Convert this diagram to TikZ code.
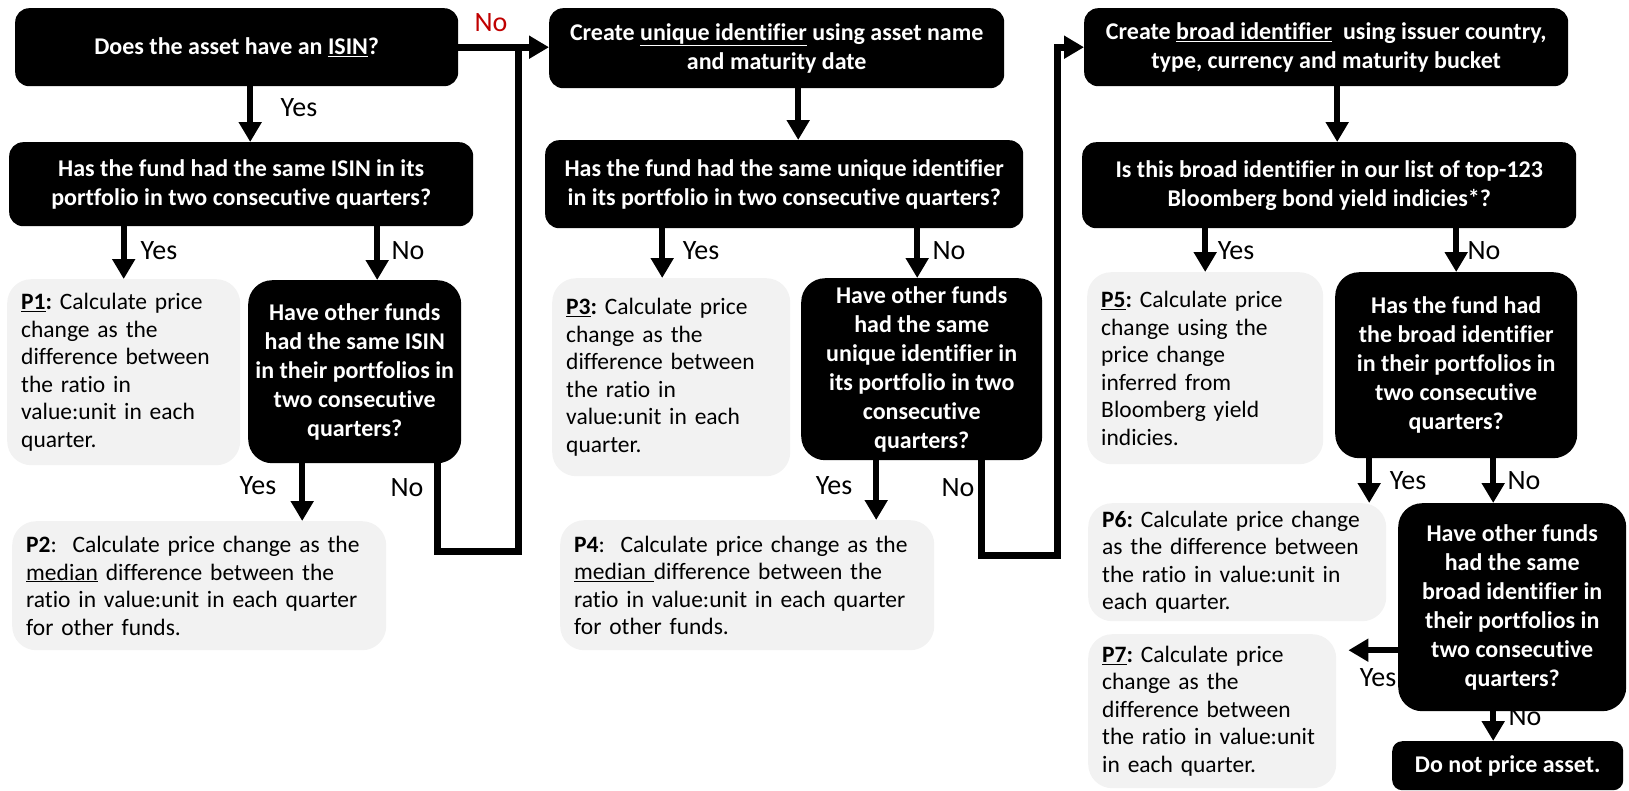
\documentclass[tikz,border=0pt]{standalone}
\usepackage{fontspec}
\setmainfont{Carlito}[Ligatures=NoCommon]
\frenchspacing
\usetikzlibrary{arrows.meta}
\definecolor{boxgray}{RGB}{242,242,242}
\definecolor{nored}{RGB}{192,0,0}
\newcommand\qfont{\fontsize{24}{29}\selectfont\bfseries}
\newcommand\pfont{\fontsize{23.5}{27.5}\selectfont}
\newcommand\lfont{\fontsize{28}{32}\selectfont}

\begin{document}
\begin{tikzpicture}[x=1pt,y=-1pt,
    qbox/.style={fill=black,text=white,rounded corners=14pt,align=center,font=\qfont,inner sep=0pt,anchor=north west},
    qround/.style={qbox,rounded corners=24pt},
    pbox/.style={fill=boxgray,rounded corners=24pt,align=left,font=\pfont,inner xsep=14pt,inner ysep=0pt,anchor=north west},
    flow/.style={line width=6pt,-{Triangle[length=20pt,width=22pt]}},
    backline/.style={line width=7pt},
    lbl/.style={font=\lfont,inner sep=0pt}]
\useasboundingbox (0,0) rectangle (1629,790);

%%%%% ISIN column %%%%%
\node[qbox,minimum width=443,minimum height=78] (isin) at (15,8) {Does the asset have an \underline{ISIN}?};
\node[qbox,minimum width=464,minimum height=84] (sameisin) at (9,142) {Has the fund had the same ISIN in its\\portfolio in two consecutive quarters?};
\node[pbox,minimum width=233,minimum height=186,text width=205] (pone) at (7,279) {\textbf{\underline{P1}:} Calculate price\\change as the\\difference between\\the ratio in\\value:unit in each\\quarter.};
\node[qround,minimum width=213,minimum height=183] (otherisin) at (248,280) {Have other funds\\had the same ISIN\\in their portfolios in\\two consecutive\\quarters?};
\node[pbox,minimum width=369,minimum height=129,text width=346] (ptwo) at (12,521) {\textbf{P2}:~ Calculate price change as the\\\underline{median} difference between the\\ratio in value:unit in each quarter\\for other funds.};

%%%%% unique identifier column %%%%%
\node[qbox,minimum width=455,minimum height=80] (unique) at (549,8) {Create \underline{unique identifier} using asset name\\and maturity date};
\node[qbox,minimum width=478,minimum height=88] (sameuid) at (545,140) {Has the fund had the same unique identifier\\in its portfolio in two consecutive quarters?};
\node[pbox,minimum width=238,minimum height=198,text width=210] (pthree) at (552,278) {\textbf{\underline{P3}:} Calculate price\\change as the\\difference between\\the ratio in\\value:unit in each\\quarter.};
\node[qround,minimum width=241,minimum height=182] (otheruid) at (801,278) {Have other funds\\had the same\\unique identifier in\\its portfolio in two\\consecutive\\quarters?};
\node[pbox,minimum width=368,minimum height=130,text width=346] (pfour) at (560,520) {\textbf{P4}:~ Calculate price change as the\\\underline{median }difference between the\\ratio in value:unit in each quarter\\for other funds.};

%%%%% broad identifier column %%%%%
\node[qbox,minimum width=484,minimum height=78] (broad) at (1084,8) {Create \underline{broad identifier}~ using issuer country,\\type, currency and maturity bucket};
\node[qbox,minimum width=494,minimum height=86] (topindex) at (1082,142) {Is this broad identifier in our list of top-123\\Bloomberg bond yield indicies*?};
\node[pbox,minimum width=236,minimum height=192,text width=208] (pfive) at (1087,272) {\textbf{\underline{P5}:} Calculate price\\change using the\\price change\\inferred from\\Bloomberg yield\\indicies.};
\node[qround,minimum width=242,minimum height=186] (samebroad) at (1335,272) {Has the fund had\\the broad identifier\\in their portfolios in\\two consecutive\\quarters?};
\node[pbox,minimum width=298,minimum height=118,text width=270] (psix) at (1088,503) {\textbf{P6:} Calculate price change\\as the difference between\\the ratio in value:unit in\\each quarter.};
\node[qround,minimum width=228,minimum height=208] (otherbroad) at (1398,503) {Have other funds\\had the same\\broad identifier in\\their portfolios in\\two consecutive\\quarters?};
\node[pbox,minimum width=248,minimum height=154,text width=220] (pseven) at (1088,634) {\textbf{\underline{P7}:} Calculate price\\change as the\\difference between\\the ratio in value:unit\\in each quarter.};
\node[qbox,rounded corners=10pt,minimum width=231,minimum height=49] (noprice) at (1392,741) {Do not price asset.};

%%%%% arrows %%%%%
\draw[flow] ([xshift=13.5pt]isin.south) -- ([xshift=13.5pt]isin.south |- sameisin.north);
\draw[flow] (pone.north |- sameisin.south) -- (pone.north);
\draw[flow] ([xshift=22.5pt]otherisin.north |- sameisin.south) -- ([xshift=22.5pt]otherisin.north);
\draw[flow] ([xshift=-52.5pt]otherisin.south) -- ([xshift=-52.5pt]otherisin.south |- ptwo.north);
\draw[flow,line width=7pt] (isin.east) -- (isin.east -| unique.west);
\coordinate (bendone) at (518,551);
\draw[backline] ([xshift=83pt]otherisin.south) |- (bendone) -- (bendone |- isin.east);

\draw[flow] ([xshift=21.5pt]unique.south) -- ([xshift=21.5pt]unique.south |- sameuid.north);
\draw[flow] ([xshift=-9pt]pthree.north |- sameuid.south) -- ([xshift=-9pt]pthree.north);
\draw[flow] ([xshift=-4.5pt]otheruid.north |- sameuid.south) -- ([xshift=-4.5pt]otheruid.north);
\draw[flow] ([xshift=-45.5pt]otheruid.south) -- ([xshift=-45.5pt]otheruid.south |- pfour.north);
\coordinate (bendtwo) at (1057,555);
\draw[flow,line width=7pt] ([xshift=59.5pt]otheruid.south) |- (bendtwo) |- (broad.west);

\draw[flow] ([xshift=11pt]broad.south) -- ([xshift=11pt]broad.south |- topindex.north);
\draw[flow] (pfive.north |- topindex.south) -- (pfive.north);
\draw[flow] (samebroad.north |- topindex.south) -- (samebroad.north);
\draw[flow] ([xshift=-87pt]samebroad.south) -- ([xshift=-87pt]samebroad.south |- psix.north);
\draw[flow] ([xshift=-19pt]otherbroad.north |- samebroad.south) -- ([xshift=-19pt]otherbroad.north);
\coordinate (pseventip) at ([xshift=12pt]pseven.east);
\draw[flow] ([yshift=-43pt]otherbroad.west) -- ([yshift=-43pt]otherbroad.west -| pseventip);
\draw[flow] ([xshift=-19pt]otherbroad.south) -- ([xshift=-19pt]otherbroad.south |- noprice.north);

%%%%% labels %%%%%
\node[lbl,text=nored] (noa) at (491,23) {No};
\node[lbl] (yesa) at (299,108) {Yes};
\node[lbl] (yesb) at (159,251) {Yes};
\node[lbl] (nob) at (408,251) {No};
\node[lbl] (yesc) at (258,486) {Yes};
\node[lbl] (noc) at (407,488) {No};
\node[lbl] (yesd) at (701,251) {Yes};
\node[lbl] (nod) at (949,251) {No};
\node[lbl] (yese) at (834,486) {Yes};
\node[lbl] (noe) at (958,488) {No};
\node[lbl] (yesf) at (1236,251) {Yes};
\node[lbl] (nof) at (1484,251) {No};
\node[lbl] (yesg) at (1408,481) {Yes};
\node[lbl] (nog) at (1524,481) {No};
\node[lbl] (yesh) at (1378,678) {Yes};
\node[lbl] (noh) at (1525,717) {No};
\end{tikzpicture}
\end{document}
